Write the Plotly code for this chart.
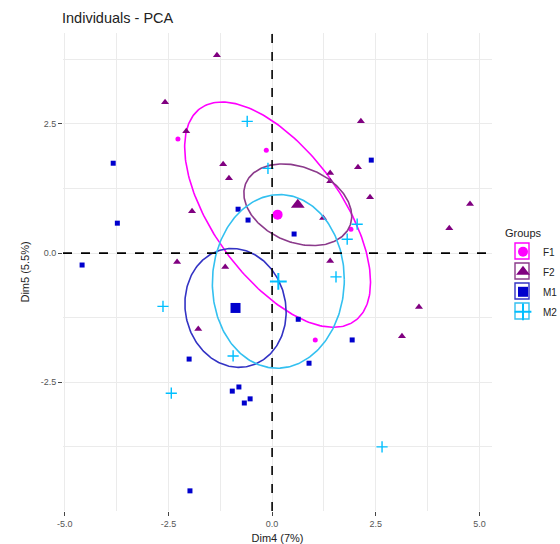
import numpy as np
import plotly.graph_objects as go

# ---------------- data ----------------
groups = ["F1", "F2", "M1", "M2"]

f1_x = [-2.27, -0.14, 1.90, 1.04]
f1_y = [2.21, 1.99, 0.46, -1.68]

f2_x = [-1.33, -2.58, -2.07, 2.14, -1.18, -1.04, -1.93, -2.29, -1.13, 2.07,
        1.40, 1.40, 2.36, 4.77, 1.23, 4.27, 1.40, -1.78, 3.54, 3.13]
f2_y = [3.83, 2.92, 2.36, 2.55, 1.72, 1.45, 0.81, -0.17, -0.27, 1.66,
        1.55, 1.39, 1.08, 0.95, 0.68, 0.48, -0.15, -1.47, -1.04, -1.61]

m1_x = [-3.83, -3.73, -0.82, -0.58, -4.58, 2.39, 0.53, -2.00, -0.96, -0.80,
        -0.67, -0.53, -1.98, 0.63, 1.93, 0.89]
m1_y = [1.74, 0.58, 0.85, 0.64, -0.23, 1.80, 0.37, -2.05, -2.67, -2.59,
        -2.90, -2.82, -4.60, -1.28, -1.68, -2.13]

m2_x = [-0.60, -0.10, -2.63, -0.94, -2.43, 2.65, 2.05, 1.81, 1.54]
m2_y = [2.55, 1.64, -1.03, -1.99, -2.71, -3.75, 0.56, 0.27, -0.46]

# ellipse half-extents (x, y) and correlation
ell_sx = [2.24, 1.30, 1.22, 1.59]
ell_sy = [2.18, 0.79, 1.15, 1.68]
ell_rho = [-0.60, -0.28, -0.07, 0.02]

x_ticks = [-5.0, -2.5, 0.0, 2.5, 5.0]
x_tick_text = ["-5.0", "-2.5", "0.0", "2.5", "5.0"]
y_ticks = [-5.0, -2.5, 0.0, 2.5]
y_tick_text = ["-5.0", "-2.5", "0.0", "2.5"]

# ---------------- styles ----------------
colors = ["#FF00FF", "#800080", "#0000CD", "#00BFFF"]
ell_colors = ["#FF00FF", "#8B3A8B", "#3333C4", "#33C0F0"]
symbols = ["circle", "triangle-up", "square", "cross-thin"]
small_sizes = [5, 7, 5, 8]
big_sizes = [10, 12, 10, 12]

xs = [f1_x, f2_x, m1_x, m2_x]
ys = [f1_y, f2_y, m1_y, m2_y]

W, H = 560, 544
ML, MR, MT, MB = 63, 68, 33, 33
PW, PH = W - ML - MR, H - MT - MB

fig = go.Figure()

t = np.linspace(0, 2 * np.pi, 241)
for i, g in enumerate(groups):
    c = colors[i]
    gx = np.array(xs[i])
    gy = np.array(ys[i])
    cx, cy = gx.mean(), gy.mean()
    thin = symbols[i] == "cross-thin"
    marker = dict(color=c, size=small_sizes[i], symbol=symbols[i],
                  line=dict(color=c, width=1.4 if thin else 0))
    fig.add_trace(go.Scatter(x=gx, y=gy, mode="markers", marker=marker,
                             name=g, legendgroup=g, showlegend=False,
                             hoverinfo="skip"))
    bigm = dict(color=c, size=big_sizes[i], symbol=symbols[i],
                line=dict(color=c, width=2 if thin else 0))
    fig.add_trace(go.Scatter(x=[cx], y=[cy], mode="markers", marker=bigm,
                             name=g, legendgroup=g, showlegend=True,
                             hoverinfo="skip"))
    r = ell_rho[i]
    ex = cx + ell_sx[i] * np.cos(t)
    ey = cy + ell_sy[i] * (r * np.cos(t) + np.sqrt(1 - r * r) * np.sin(t))
    fig.add_trace(go.Scatter(x=ex, y=ey, mode="lines",
                             line=dict(color=ell_colors[i], width=1.6),
                             legendgroup=g, showlegend=False, hoverinfo="skip"))

# dashed reference lines at zero
fig.add_shape(type="line", xref="x", yref="paper", x0=0, x1=0, y0=0, y1=1,
              line=dict(color="black", width=1.6, dash="dash"), layer="above")
fig.add_shape(type="line", xref="paper", yref="y", x0=0, x1=1, y0=0, y1=0,
              line=dict(color="black", width=1.6, dash="dash"), layer="above")

# legend key frames (ggplot-style outlined keys)
key_cx = 522
key_cy0, key_step = 251, 20
for i, g in enumerate(groups):
    cyk = key_cy0 + i * key_step
    fig.add_shape(type="rect", xref="paper", yref="paper",
                  x0=(key_cx - 7 - ML) / PW, x1=(key_cx + 7 - ML) / PW,
                  y0=(H - MB - (cyk + 8)) / PH, y1=(H - MB - (cyk - 8)) / PH,
                  line=dict(color=ell_colors[i], width=1.4), layer="below")

grid = "#EBEBEB"
fig.update_xaxes(range=[-5.04, 5.30], tickvals=x_ticks, ticktext=x_tick_text,
                 automargin=False,
                 showgrid=True, gridcolor=grid, gridwidth=1,
                 minor=dict(dtick=1.25, tick0=0, showgrid=True, gridcolor=grid, gridwidth=1),
                 zeroline=False, showline=False,
                 ticks="outside", ticklen=4, tickcolor="#444", tickwidth=1,
                 tickfont=dict(size=9, color="#555"),
                 title=dict(text="Dim4 (7%)", font=dict(size=11, color="#222"), standoff=6))
fig.update_yaxes(range=[-4.99, 4.26], tickvals=y_ticks, ticktext=y_tick_text,
                 automargin=False,
                 showgrid=True, gridcolor=grid, gridwidth=1,
                 minor=dict(dtick=1.25, tick0=0, showgrid=True, gridcolor=grid, gridwidth=1),
                 zeroline=False, showline=False,
                 ticks="outside", ticklen=4, tickcolor="#444", tickwidth=1,
                 tickfont=dict(size=9, color="#555"),
                 title=dict(text="Dim5 (5.5%)", font=dict(size=11, color="#222"), standoff=8))

fig.update_layout(
    width=W, height=H,
    margin=dict(l=ML, r=MR, t=MT, b=MB, autoexpand=False),
    paper_bgcolor="white", plot_bgcolor="white",
    font=dict(family="Liberation Sans, Arial, sans-serif"),
    title=dict(text="Individuals - PCA", x=62 / W, xanchor="left",
               y=1 - 18 / H, yanchor="middle",
               font=dict(size=14.5, color="#222")),
    legend=dict(xref="container", x=503 / W, xanchor="left",
                yref="container", y=1 - 223 / H, yanchor="top",
                title=dict(text="Groups", font=dict(size=11, color="#222")),
                font=dict(size=10, color="#222"), itemwidth=30,
                tracegroupgap=1, bgcolor="rgba(0,0,0,0)"),
)

fig.write_html("out.html")
